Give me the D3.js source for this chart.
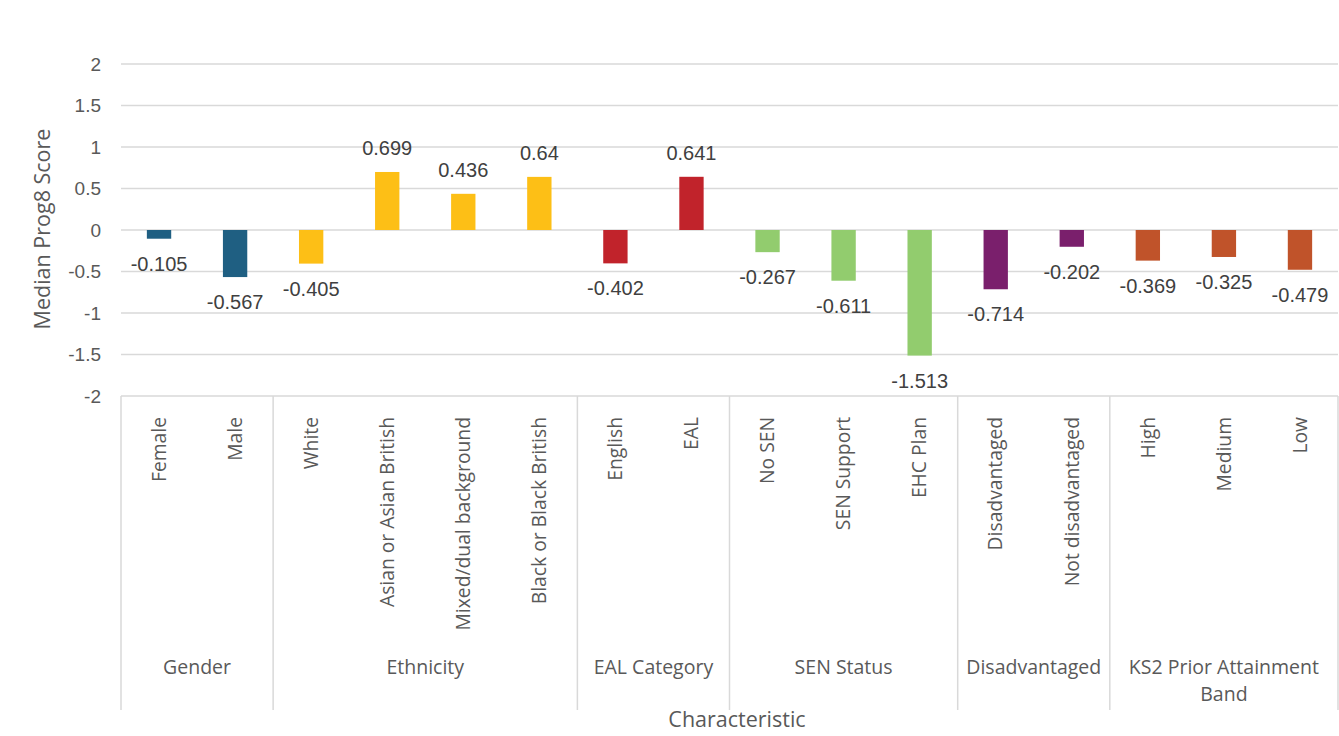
<!DOCTYPE html>
<html>
<head>
<meta charset="utf-8">
<script src="https://cdn.jsdelivr.net/npm/d3@7"></script>
<style>
  html, body { margin: 0; padding: 0; background: #fff; }
  svg { display: block; }
</style>
</head>
<body>
<svg id="chart" width="1339" height="736"></svg>
<script>
const categories = ["Female", "Male", "White", "Asian or Asian British", "Mixed/dual background", "Black or Black British",
  "English", "EAL", "No SEN", "SEN Support", "EHC Plan", "Disadvantaged", "Not disadvantaged", "High", "Medium", "Low"];
const values = [-0.105, -0.567, -0.405, 0.699, 0.436, 0.64, -0.402, 0.641, -0.267, -0.611, -1.513, -0.714, -0.202, -0.369, -0.325, -0.479];
const groupNames = ["Gender", "Ethnicity", "EAL Category", "SEN Status", "Disadvantaged", "KS2 Prior Attainment Band"];
const groupSizes = [2, 4, 2, 3, 2, 3];
const groupColors = ["#1F5F82", "#FDBF16", "#C1232B", "#92CC6E", "#7A1F6C", "#C0532A"];
const yTicks = [2, 1.5, 1, 0.5, 0, -0.5, -1, -1.5, -2];

(function () {
const svg = d3.select("#chart");
const pLeft = 121, pRight = 1338, pTop = 64, pBottom = 396, axisBottom = 710;
const grey = "#595959", gridC = "#d9d9d9";

const groupOf = [];
groupSizes.forEach((n, g) => { for (let i = 0; i < n; i++) groupOf.push(g); });

const x = d3.scaleBand().domain(categories).range([pLeft, pRight]).padding(0);
const y = d3.scaleLinear().domain([-2, 2]).range([pBottom, pTop]);
const barW = x.bandwidth() * 0.32;

svg.append("g").selectAll("line").data(yTicks).join("line")
  .attr("x1", pLeft).attr("x2", pRight)
  .attr("y1", d => y(d)).attr("y2", d => y(d))
  .attr("stroke", gridC).attr("stroke-width", 1.5);

svg.append("g").selectAll("text").data(yTicks).join("text")
  .attr("x", 101).attr("y", d => y(d)).attr("dy", "0.35em")
  .attr("text-anchor", "end")
  .attr("font-family", "Liberation Sans, Arial, sans-serif").attr("font-size", 19)
  .attr("fill", grey).text(d => d);

const bounds = [0];
groupSizes.reduce((acc, n) => { bounds.push(acc + n); return acc + n; }, 0);
svg.append("g").selectAll("line").data(bounds).join("line")
  .attr("x1", i => i < categories.length ? x(categories[i]) : pRight)
  .attr("x2", i => i < categories.length ? x(categories[i]) : pRight)
  .attr("y1", pBottom).attr("y2", axisBottom)
  .attr("stroke", gridC).attr("stroke-width", 1.5);

svg.append("g").selectAll("rect").data(values).join("rect")
  .attr("x", (d, i) => x(categories[i]) + x.bandwidth() / 2 - barW / 2)
  .attr("width", barW)
  .attr("y", d => Math.min(y(d), y(0)))
  .attr("height", d => Math.abs(y(d) - y(0)))
  .attr("fill", (d, i) => groupColors[groupOf[i]]);

svg.append("g").selectAll("text").data(values).join("text")
  .attr("x", (d, i) => x(categories[i]) + x.bandwidth() / 2)
  .attr("y", d => d < 0 ? y(d) + 25 : y(d) - 24)
  .attr("dy", "0.35em")
  .attr("text-anchor", "middle")
  .attr("font-family", "Liberation Sans, Arial, sans-serif").attr("font-size", 20)
  .attr("fill", "#404040").text(d => d);

svg.append("g").selectAll("text").data(categories).join("text")
  .attr("transform", d => `translate(${x(d) + x.bandwidth() / 2},417) rotate(-90)`)
  .attr("dy", "0.35em")
  .attr("text-anchor", "end")
  .attr("font-family", "Open Sans, sans-serif").attr("font-size", 19.3)
  .attr("fill", grey).text(d => d);

let start = 0;
groupNames.forEach((name, g) => {
  const x0 = x(categories[start]);
  const endIdx = start + groupSizes[g];
  const x1 = endIdx < categories.length ? x(categories[endIdx]) : pRight;
  start = endIdx;
  const cx = (x0 + x1) / 2;
  const t = svg.append("text")
    .attr("x", cx).attr("y", 667)
    .attr("text-anchor", "middle")
    .attr("font-family", "Open Sans, sans-serif")
    .attr("font-size", 19.5)
    .attr("fill", grey);
  const words = name.split(" ");
  let line = [];
  let tspan = t.append("tspan").attr("x", cx).attr("dy", "0.35em");
  words.forEach(w => {
    line.push(w);
    tspan.text(line.join(" "));
    if (tspan.node().getComputedTextLength() > (x1 - x0) - 10 && line.length > 1) {
      line.pop();
      tspan.text(line.join(" "));
      line = [w];
      tspan = t.append("tspan").attr("x", cx).attr("dy", "1.4em").text(w);
    }
  });
});

svg.append("text")
  .attr("x", 737).attr("y", 719).attr("dy", "0.35em")
  .attr("text-anchor", "middle")
  .attr("font-family", "Open Sans, sans-serif").attr("font-size", 21.5)
  .attr("fill", grey).text("Characteristic");

svg.append("text")
  .attr("transform", "translate(42,229) rotate(-90)")
  .attr("dy", "0.35em")
  .attr("text-anchor", "middle")
  .attr("font-family", "Open Sans, sans-serif").attr("font-size", 21.5)
  .attr("fill", grey).text("Median Prog8 Score");
})();
</script>
</body>
</html>
